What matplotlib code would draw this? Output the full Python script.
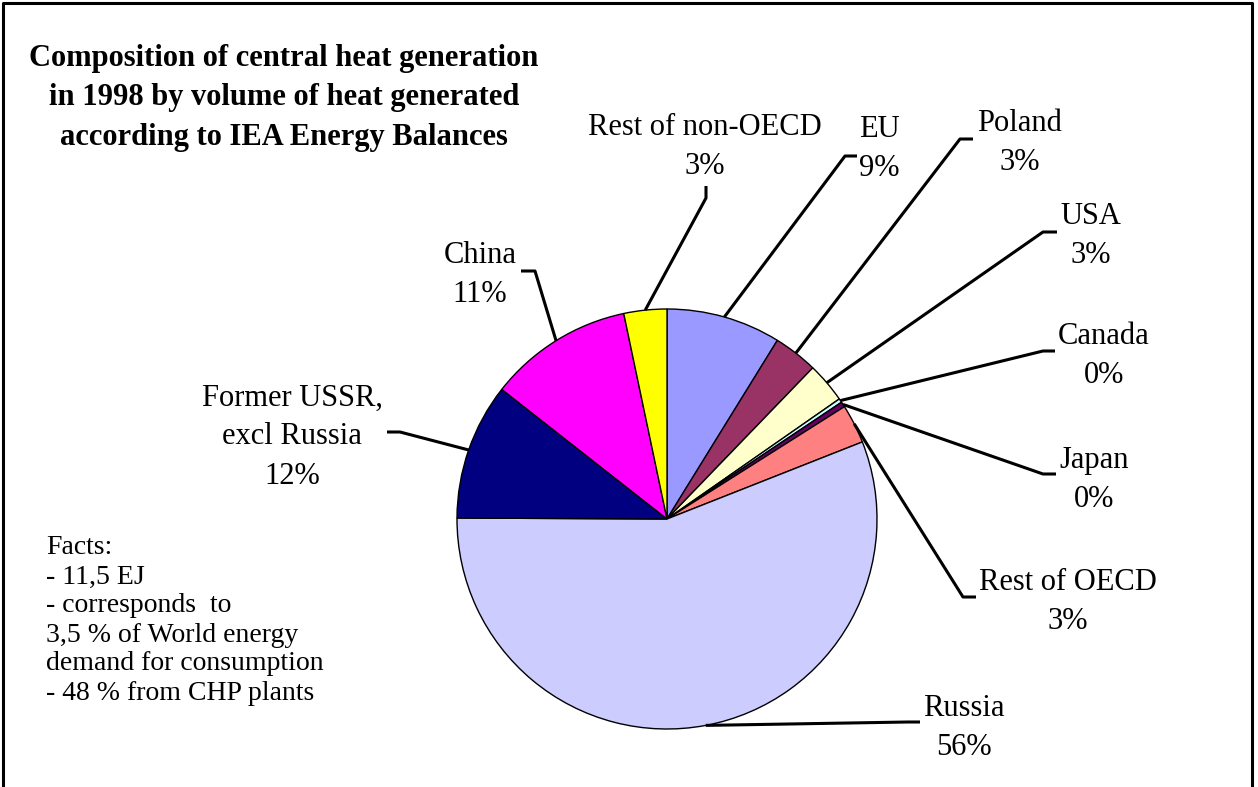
import numpy as np
import matplotlib
matplotlib.use("Agg")
import matplotlib.pyplot as plt

plt.rcParams["font.family"] = ["Liberation Serif", "DejaVu Serif"]

# data (clockwise from 12 o'clock)
regions = ["EU", "Poland", "USA", "Canada", "Japan", "Rest of OECD",
           "Russia", "Former USSR,\nexcl Russia", "China", "Rest of non-OECD"]
shares = [8.8, 3.4, 3.1, 0.3, 0.4, 3.0, 56.0, 10.5, 11.1, 3.3]
pct_labels = ["9%", "3%", "3%", "0%", "0%", "3%", "56%", "12%", "11%", "3%"]
colors = ["#9999FF", "#993366", "#FFFFCC", "#CCFFFF", "#660066", "#FF8080",
          "#CCCCFF", "#000080", "#FF00FF", "#FFFF00"]

facts = ["Facts:", "- 11,5 EJ", "- corresponds  to", "3,5 % of World energy",
         "demand for consumption", "- 48 % from CHP plants"]

W, H = 1258, 787
# layout in pixel coords (y down): label centre, leader elbow, leader end
label_pos = [(879, 149), (1020, 143), (1091, 236), (1104, 356), (1094, 480),
             (1068, 602), (964, 728), (292, 437), (480, 275), (705, 147)]
elbows = [(845, 156), (960, 139), (1043, 232), (1043, 351), (1043, 474),
          (963, 597), (908, 722), (400, 432), (535, 271), (706, 198)]
ends = [(857, 156), (973, 139), (1057, 232), (1055, 351), (1056, 474),
        (976, 597), (920, 722), (387, 432), (521, 271), (706, 186)]

cx, cy, r = 667, 519, 210


def Y(p):
    return H - p


fig = plt.figure(figsize=(W / 100, H / 100), dpi=100)
ax = fig.add_axes([0, 0, 1, 1])

wedges, _ = ax.pie(shares, colors=colors, startangle=90, counterclock=False,
                   center=(cx, Y(cy)), radius=r,
                   wedgeprops=dict(edgecolor="black", linewidth=1.0))

# leader lines + labels
for w, name, pct, lp, el, en in zip(wedges, regions, pct_labels,
                                    label_pos, elbows, ends):
    mid = np.deg2rad((w.theta1 + w.theta2) / 2)
    x0 = cx + r * np.cos(mid)
    y0 = Y(cy) + r * np.sin(mid)
    ax.plot([x0, el[0], en[0]], [y0, Y(el[1]), Y(en[1])],
            color="black", lw=2.2, solid_capstyle="butt", zorder=3)
    ax.text(lp[0], Y(lp[1]), name + "\n" + pct, ha="center", va="center",
            fontsize=22, linespacing=1.46)

# title
ax.text(284, Y(98), "Composition of central heat generation\n"
        "in 1998 by volume of heat generated\n"
        "according to IEA Energy Balances",
        ha="center", va="center", fontsize=22, fontweight="bold",
        linespacing=1.46)

# facts box
for i, line in enumerate(facts):
    ax.text(46, Y(548 + 29 * i), line, ha="left", va="center", fontsize=20)

# outer frame (bottom edge runs off the image)
ax.plot([3, 3, 1252, 1252], [Y(800), Y(3), Y(3), Y(800)],
        color="black", lw=2.2, clip_on=False)

ax.set_xlim(0, W)
ax.set_ylim(0, H)
ax.set_aspect("equal")
ax.axis("off")

fig.savefig("out.png", dpi=100)
